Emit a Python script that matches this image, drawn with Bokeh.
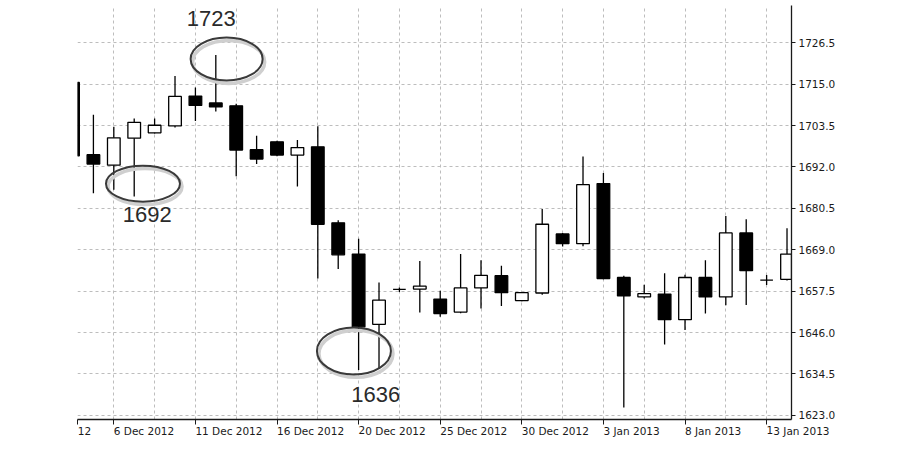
from bokeh.plotting import figure
from bokeh.models import Range1d, FixedTicker, PrintfTickFormatter, Label, ColumnDataSource
from bokeh.embed import file_html
from bokeh.resources import INLINE

# ---------------- data ----------------
bar_index = list(range(36))
opens  = [1715.5, 1695.4, 1692.5, 1700.0, 1701.5, 1703.4, 1711.7, 1709.8, 1709.0, 1696.8,
          1699.0, 1695.3, 1697.6, 1676.5, 1667.8, 1648.3, 1658.0, 1658.1, 1655.3, 1651.7,
          1658.4, 1661.8, 1654.9, 1657.0, 1673.4, 1670.7, 1687.4, 1661.3, 1655.9, 1656.7,
          1649.6, 1661.3, 1655.9, 1673.7, 1660.6, 1660.8]
highs  = [1717.0, 1706.5, 1703.2, 1705.5, 1705.5, 1717.3, 1714.1, 1723.1, 1709.6, 1700.7,
          1699.3, 1699.5, 1703.3, 1677.2, 1672.1, 1659.9, 1658.5, 1665.9, 1657.6, 1667.8,
          1666.1, 1664.6, 1657.3, 1680.3, 1673.7, 1694.9, 1690.3, 1661.8, 1659.3, 1662.5,
          1662.1, 1666.1, 1678.4, 1677.5, 1662.0, 1675.0]
lows   = [1693.5, 1684.7, 1685.7, 1683.8, 1701.3, 1703.0, 1704.8, 1707.4, 1689.4, 1692.8,
          1695.0, 1686.6, 1661.0, 1663.7, 1635.6, 1635.9, 1657.3, 1651.6, 1650.4, 1651.4,
          1652.7, 1653.4, 1654.7, 1656.5, 1669.9, 1670.0, 1660.8, 1625.2, 1655.5, 1642.7,
          1646.7, 1651.3, 1653.6, 1653.7, 1659.2, 1660.5]
closes = [1695.1, 1692.8, 1700.1, 1704.4, 1703.6, 1711.6, 1709.1, 1708.7, 1696.7, 1694.2,
          1695.3, 1697.4, 1676.1, 1667.6, 1647.6, 1655.0, 1658.0, 1658.9, 1651.3, 1658.4,
          1661.9, 1657.1, 1657.1, 1676.1, 1670.7, 1687.1, 1661.0, 1656.2, 1656.8, 1649.6,
          1661.3, 1655.9, 1673.7, 1663.2, 1660.6, 1667.8]

X_LO, X_HI = 0.22, 35.22
Y_LO, Y_HI = 1621.86, 1736.86

# the first label is the visible tail of "2 Dec 2012", cut by the chart's left edge
x_tick_index  = [X_LO + 0.01, 2, 6, 10, 14, 18, 22, 26, 30, 34]
x_tick_labels = ["12", "6 Dec 2012", "11 Dec 2012", "16 Dec 2012", "20 Dec 2012", "25 Dec 2012",
                 "30 Dec 2012", "3 Jan 2013", "8 Jan 2013", "13 Jan 2013"]
y_ticks = [1623.0, 1634.5, 1646.0, 1657.5, 1669.0, 1680.5, 1692.0, 1703.5, 1715.0, 1726.5]

anno_text = ["1723", "1692", "1636"]
anno_text_x = [6.78, 3.64, 14.84]
anno_text_y = [1733.25, 1678.75, 1628.75]
ring_x = [7.53, 3.43, 13.77]
ring_y = [1722.0, 1687.36, 1640.9]
ring_w = [72, 74, 74]
ring_h = [43, 36, 47]

# ---------------- figure ----------------
p = figure(width=908, height=445, x_range=Range1d(X_LO, X_HI), y_range=Range1d(Y_LO, Y_HI),
           output_backend="svg", toolbar_location=None, y_axis_location="right",
           min_border_left=77, min_border_right=117, min_border_top=5, min_border_bottom=26)
p.outline_line_color = None
p.background_fill_color = "white"

AX_FONT = "DejaVu Sans"
for ax in (p.xaxis[0], p.yaxis[0]):
    ax.axis_line_color = "#1a1a1a"
    ax.axis_line_width = 1.3
    ax.major_tick_line_color = "#1a1a1a"
    ax.major_tick_in = 0
    ax.minor_tick_line_color = None
    ax.major_label_text_font = AX_FONT
    ax.major_label_text_font_size = "10.5px"
    ax.major_label_text_color = "#1a1a1a"

p.xaxis.ticker = FixedTicker(ticks=x_tick_index)
p.xaxis.major_label_overrides = dict(zip(x_tick_index, x_tick_labels))
p.xaxis.major_tick_out = 5
p.xaxis.major_label_standoff = 6
p.xaxis.major_label_orientation = -0.0001   # makes labels start at their tick

p.yaxis.ticker = FixedTicker(ticks=y_ticks)
p.yaxis.formatter = PrintfTickFormatter(format="%.1f")
p.yaxis.major_tick_out = 4
p.yaxis.major_label_standoff = 3

for g in (p.xgrid[0], p.ygrid[0]):
    g.grid_line_color = "#bdbdbd"
    g.grid_line_dash = "3 3"
    g.grid_line_width = 1
p.xgrid.ticker = FixedTicker(ticks=list(range(0, 36, 2)))

# ---------------- candles ----------------
fill = ["white" if c > o else "black" for o, c in zip(opens, closes)]
src = ColumnDataSource(dict(x=bar_index, o=opens, h=highs, l=lows, c=closes, fill=fill))
p.segment(x0="x", y0="h", x1="x", y1="l", source=src, line_color="black", line_width=1.3)
p.vbar(x="x", width=0.62, top="o", bottom="c", source=src, fill_color="fill",
       line_color="black", line_width=1.3)

# ---------------- annotations ----------------
p.ellipse(x=[x + 0.1 for x in ring_x], y=[y - 0.8 for y in ring_y], width=ring_w, height=ring_h,
          width_units="screen", height_units="screen", fill_color=None,
          line_color="#cfcfcf", line_width=3.5)
p.ellipse(x=ring_x, y=ring_y, width=ring_w, height=ring_h,
          width_units="screen", height_units="screen", fill_color=None,
          line_color="#3a3a3a", line_width=2)
for t, tx, ty in zip(anno_text, anno_text_x, anno_text_y):
    p.add_layout(Label(x=tx, y=ty, text=t, text_align="center", text_baseline="middle",
                       text_font="Liberation Sans", text_font_size="22px", text_color="#2a2a2a"))

open("out.html", "w").write(file_html(p, INLINE))
